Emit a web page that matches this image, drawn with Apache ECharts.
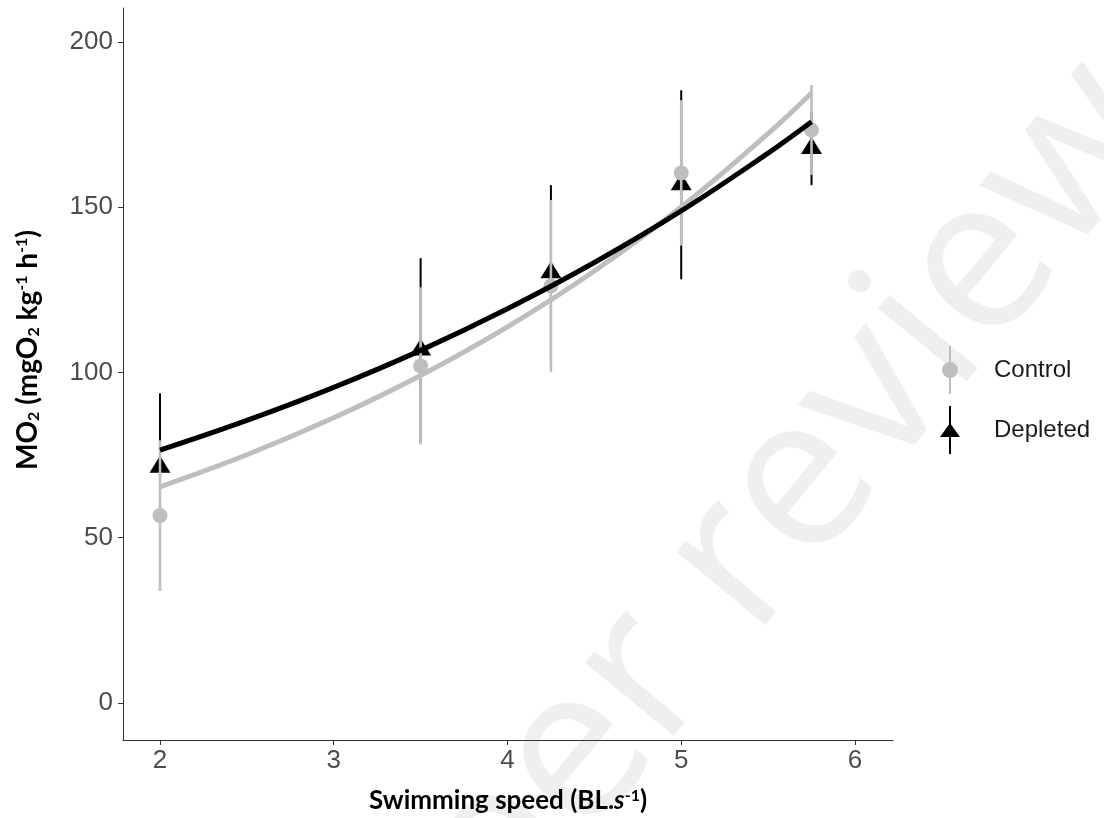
<!DOCTYPE html>
<html>
<head>
<meta charset="utf-8">
<title>MO2 vs swimming speed</title>
<script src="https://cdn.jsdelivr.net/npm/echarts@6/dist/echarts.min.js"></script>
<style>
  html, body { margin: 0; padding: 0; background: #fff; }
  #chart { width: 1104px; height: 818px; }
</style>
</head>
<body>
<div id="chart"></div>
<script>
const speeds = [2, 3.5, 4.25, 5, 5.75]
const controlMean = [56.7, 102.0, 126.2, 160.4, 173.4]
const controlSE = [22.8, 23.8, 26.0, 22.0, 13.6]
const depletedMean = [71.3, 106.8, 130.2, 156.8, 167.8]
const depletedSE = [22.4, 27.8, 26.5, 28.6, 11.1]

// fitted curves, read at a few speeds
const fitSpeeds = [2, 2.5, 3, 3.5, 4, 4.5, 5, 5.5, 5.75]
const controlFit = [65.4, 75.1, 86.3, 99.1, 113.8, 130.7, 150.1, 172.3, 184.6]
const depletedFit = [76.5, 85.5, 95.5, 106.7, 119.3, 133.3, 148.9, 166.4, 175.9]

const xTicks = [2, 3, 4, 5, 6]
const yTicks = [0, 50, 100, 150, 200]

const GREY = '#bebebe'
const BLACK = '#000000'

const chart = echarts.init(document.getElementById('chart'))

const pairs = (xs, ys) => xs.map((x, i) => [x, ys[i]])
const bars = (means, ses) => speeds.map((x, i) => [x, means[i] - ses[i], means[i] + ses[i]])

const errorBar = (color, width) => (params, api) => {
  const lo = api.coord([api.value(0), api.value(1)])
  const hi = api.coord([api.value(0), api.value(2)])
  return {
    type: 'line',
    shape: { x1: lo[0], y1: lo[1], x2: hi[0], y2: hi[1] },
    style: { stroke: color, lineWidth: width }
  }
}

const circleIcon = 'path://M9,0h2v48h-2z M2,24 A8,8 0 1,1 18,24 A8,8 0 1,1 2,24 Z'
const triangleIcon = 'path://M9,0h2v48h-2z M10,17 L20,31 L0,31 Z'

const titleFont = (size) => ({
  fontFamily: 'Lato',
  fontWeight: 'bold',
  fontSize: size,
  color: '#000',
  rich: {
    sup: { fontFamily: 'Lato', fontWeight: 'bold', fontSize: 16, lineHeight: 14, verticalAlign: 'top', color: '#000' },
    sub: { fontFamily: 'Lato', fontWeight: 'bold', fontSize: 16, lineHeight: 12, verticalAlign: 'bottom', color: '#000' },
    it: { fontFamily: 'Lato', fontWeight: 'bold', fontStyle: 'italic', fontSize: size, color: '#000' }
  }
})

const option = {
  backgroundColor: '#fff',
  animation: false,
  graphic: [
    {
      type: 'text',
      z: -10,
      x: 752,
      y: 545,
      rotation: 0.88,
      style: {
        text: 'Peer review',
        fontFamily: 'Open Sans',
        fontSize: 215,
        fill: '#efefef',
        align: 'center',
        verticalAlign: 'middle'
      }
    }
  ],
  grid: { left: 123, right: 211, top: 8, bottom: 78, containLabel: false, outerBoundsMode: 'none' },
  legend: {
    orient: 'vertical',
    left: 935,
    top: 341,
    itemWidth: 78,
    itemHeight: 48,
    itemGap: 12,
    textStyle: { fontFamily: 'Liberation Sans', fontSize: 24, color: '#1a1a1a' },
    data: [
      { name: 'Control', icon: circleIcon, itemStyle: { color: GREY } },
      { name: 'Depleted', icon: triangleIcon, itemStyle: { color: BLACK } }
    ]
  },
  xAxis: {
    type: 'value',
    min: 1.787,
    max: 6.219,
    name: 'Swimming speed (BL.{it|s}{sup|-1})',
    nameLocation: 'middle',
    nameGap: 48,
    nameTextStyle: titleFont(26),
    splitLine: { show: false },
    axisLine: { show: true, onZero: false, lineStyle: { color: '#333', width: 1 } },
    axisTick: { show: true, length: 5, customValues: xTicks, lineStyle: { color: '#333' } },
    axisLabel: {
      customValues: xTicks,
      margin: 8,
      fontFamily: 'Liberation Sans',
      fontSize: 26,
      color: '#4d4d4d'
    }
  },
  yAxis: {
    type: 'value',
    min: -11.2,
    max: 210.3,
    name: 'MO{sub|2} (mgO{sub|2} kg{sup|-1} h{sup|-1})',
    nameLocation: 'middle',
    nameRotate: 90,
    nameGap: 81,
    nameTextStyle: Object.assign(titleFont(28), { padding: [0, 0, 0, 48] }),
    splitLine: { show: false },
    axisLine: { show: true, onZero: false, lineStyle: { color: '#333', width: 1 } },
    axisTick: { show: true, length: 5, customValues: yTicks, lineStyle: { color: '#333' } },
    axisLabel: {
      customValues: yTicks,
      margin: 10,
      fontFamily: 'Liberation Sans',
      fontSize: 26,
      color: '#4d4d4d'
    }
  },
  series: [
    {
      name: 'Depleted',
      type: 'custom',
      z: 2,
      renderItem: errorBar(BLACK, 2),
      encode: { x: 0, y: [1, 2] },
      itemStyle: { color: BLACK },
      data: bars(depletedMean, depletedSE)
    },
    {
      name: 'Depleted',
      type: 'scatter',
      z: 3,
      symbol: 'triangle',
      symbolSize: [21, 17],
      symbolOffset: [0, -3],
      itemStyle: { color: BLACK, opacity: 1 },
      data: pairs(speeds, depletedMean)
    },
    {
      name: 'Control',
      type: 'custom',
      z: 4,
      renderItem: errorBar(GREY, 2.6),
      encode: { x: 0, y: [1, 2] },
      itemStyle: { color: GREY },
      data: bars(controlMean, controlSE)
    },
    {
      name: 'Control',
      type: 'scatter',
      z: 5,
      symbol: 'circle',
      symbolSize: 15,
      itemStyle: { color: GREY, opacity: 1 },
      data: pairs(speeds, controlMean)
    },
    {
      name: 'Control',
      type: 'line',
      z: 6,
      smooth: 0.4,
      showSymbol: false,
      lineStyle: { color: GREY, width: 5 },
      itemStyle: { color: GREY },
      data: pairs(fitSpeeds, controlFit)
    },
    {
      name: 'Depleted',
      type: 'line',
      z: 7,
      smooth: 0.4,
      showSymbol: false,
      lineStyle: { color: BLACK, width: 5 },
      itemStyle: { color: BLACK },
      data: pairs(fitSpeeds, depletedFit)
    }
  ]
}

chart.setOption(option)
</script>
</body>
</html>
